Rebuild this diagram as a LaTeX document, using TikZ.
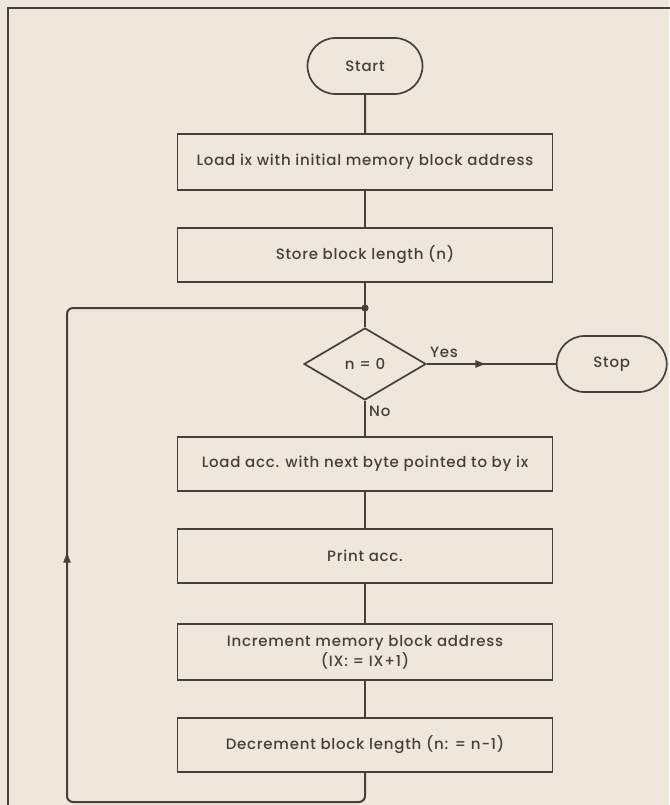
\documentclass[tikz,border=0pt]{standalone}
\usepackage{fontspec}
\setmainfont{Poppins}[UprightFont=* Medium, LetterSpace=5]
\usepackage{tikz}
\usetikzlibrary{arrows.meta,positioning,shapes.geometric,shapes.misc,decorations.markings}
\definecolor{paper}{HTML}{EFE7DC}
\definecolor{ink}{HTML}{45403C}

\begin{document}
\begin{tikzpicture}[
    x=1pt, y=-1pt,
    font=\fontsize{15}{20}\selectfont,
    color=ink,
    box/.style={
        draw,
        align=center,
        minimum width=375pt,
        minimum height=54pt,
        inner sep=4pt,
        line width=1.7pt
    },
    term/.style={
        draw,
        rounded rectangle,
        minimum height=56pt,
        inner sep=4pt,
        line width=1.7pt
    },
    decision/.style={
        draw,
        diamond,
        aspect=1.7,
        minimum width=122pt,
        minimum height=72pt,
        inner sep=0pt,
        line width=1.7pt
    },
    lbl/.style={inner sep=0pt},
    flow/.style={line width=2pt},
    midarrow/.style={
        flow,
        postaction={decorate},
        decoration={markings,
            mark=at position #1 with {\arrow{Latex[length=12pt,width=8pt]}}}
    }
]
\useasboundingbox (0,0) rectangle (669,805);
\fill[paper] (0,0) rectangle (669,805);
\draw[line width=1.4pt] (8,806) |- (670,8);

\node[term, minimum width=123pt] (start) at (365,66) {Start};

\node[box, minimum height=56pt, below=38.3pt of start] (loadix)
{Load ix with initial memory block address};
\node[box, below=36.3pt of loadix] (store)
{Store block length (n)};

\node[decision, below=44.3pt of store] (zero) {n = 0};
\node[term, minimum width=118pt, right=129pt of zero] (stop) {Stop};

\node[box, below=35.3pt of zero] (loadacc)
{Load acc. with next byte pointed to by ix};
\node[box, below=36.3pt of loadacc] (print)
{Print acc.};
\node[box, minimum height=56pt, below=39.3pt of print] (incr)
{Increment memory block address\\(IX: = IX+1)};
\node[box, below=36.3pt of incr] (decr)
{Decrement block length (n: = n−1)};

\node[lbl, anchor=south west] (yes) at ([xshift=3pt,yshift=6pt]zero.east) {Yes};
\node[lbl, anchor=north west] (no) at ([xshift=4pt,yshift=-5pt]zero.south) {No};

\coordinate (join) at (365,308);
\coordinate (corner) at (67,802);

\draw[flow] (start) -- (loadix);
\draw[flow] (loadix) -- (store);
\draw[flow] (store) -- (zero);
\draw[midarrow=0.47] (zero.east) -- (stop.west);
\draw[flow] (zero) -- (loadacc);
\draw[flow] (loadacc) -- (print);
\draw[flow] (print) -- (incr);
\draw[flow] (incr) -- (decr);

% loop back to the test
\draw[midarrow=0.516, rounded corners=6pt] (decr.south) |- (corner) |- (join);
\fill (join) circle (3.6pt);

\end{tikzpicture}
\end{document}
